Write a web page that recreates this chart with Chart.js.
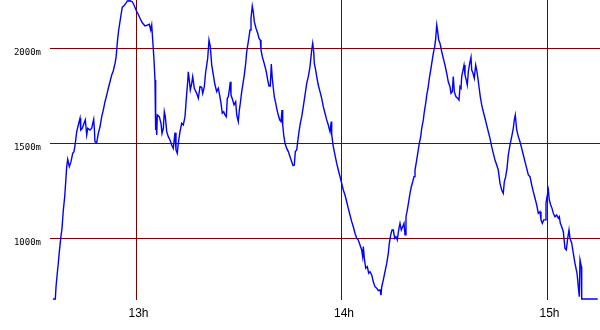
<!DOCTYPE html>
<html>
<head>
<meta charset="utf-8">
<script src="https://cdn.jsdelivr.net/npm/chart.js@4/dist/chart.umd.min.js"></script>
<style>
html,body{margin:0;padding:0;background:#fff;}
canvas{display:block;}
</style>
</head>
<body>
<canvas id="c" width="600" height="330"></canvas>
<script>
// time in minutes after 12:00, altitude in metres
const times = [35.6,36.29,36.5,36.87,37.17,37.46,37.87,38.25,38.63,39.03,39.33,39.62,39.91,40.38,40.87,41.37,41.75,42.13,42.54,43.0,43.5,43.71,44.17,44.67,45.05,45.46,45.75,46.42,46.92,47.5,47.68,47.88,48.38,48.84,49.34,49.84,50.3,50.8,51.3,51.77,52.26,52.76,53.23,53.72,54.01,54.22,54.51,54.8,55.18,55.47,55.85,56.35,56.93,57.31,58.1,58.77,59.27,59.85,60.35,61.02,61.69,62.48,63.15,63.74,64.15,64.44,64.73,65.11,65.4,65.49,65.69,65.9,66.07,66.66,67.15,67.45,67.83,68.12,68.41,68.82,69.28,69.78,70.28,70.74,71.24,71.53,71.91,72.2,72.7,73.2,73.66,74.16,74.66,74.95,75.12,75.42,75.71,76.12,76.41,76.88,77.58,78.05,78.54,79.04,79.33,79.8,80.2,80.5,80.79,81.17,81.55,81.96,82.43,82.92,83.42,83.88,84.18,84.67,85.05,85.46,85.84,86.22,86.51,86.8,87.1,87.39,87.59,88.09,88.47,88.96,89.26,89.72,90.02,90.31,90.72,91.1,91.48,91.88,92.18,92.64,93.14,93.43,93.81,94.1,94.4,94.89,95.39,95.77,96.15,96.35,96.73,97.14,97.52,97.9,98.31,98.69,99.07,99.36,99.65,99.95,100.24,100.65,101.03,101.41,101.81,102.19,102.49,102.69,102.98,103.36,103.86,104.33,104.82,105.32,105.7,106.08,106.37,106.78,107.07,107.45,107.83,108.24,108.7,109.2,109.7,110.17,110.66,111.16,111.45,111.74,111.92,112.32,112.71,113.08,113.58,114.08,114.54,115.04,115.54,116.0,116.5,116.88,117.0,117.47,117.96,118.46,118.92,119.42,119.92,120.38,120.88,121.38,121.84,122.34,122.84,123.3,123.8,124.3,124.76,125.26,125.76,126.05,126.23,126.52,126.93,127.39,127.8,128.18,128.68,129.14,129.64,130.14,130.6,131.1,131.39,131.6,132.06,132.56,133.06,133.52,133.82,134.23,134.61,134.98,135.39,135.77,136.15,136.56,136.94,137.32,137.73,138.11,138.4,138.69,139.07,139.48,139.86,140.24,140.65,141.03,141.32,141.82,142.2,142.58,142.99,143.28,143.75,144.04,144.45,144.74,145.12,145.5,145.9,146.29,146.66,147.07,147.37,147.66,147.95,148.24,148.62,149.12,149.58,150.08,150.58,151.04,151.54,151.83,152.21,152.5,152.8,153.29,153.79,154.17,154.46,154.75,154.96,155.34,155.63,155.92,156.3,156.59,156.89,157.29,157.67,157.88,158.26,158.64,159.04,159.34,159.63,160.01,160.39,160.8,161.27,161.76,162.26,162.72,163.22,163.72,164.18,164.68,165.18,165.64,166.14,166.64,167.1,167.4,167.8,168.19,168.56,169.06,169.56,170.02,170.32,170.61,171.02,171.49,171.98,172.48,172.95,173.44,173.94,174.41,174.9,175.4,175.86,176.36,176.86,177.32,177.82,178.11,178.49,178.9,179.28,179.57,179.87,180.25,180.54,180.95,181.33,181.71,182.2,182.7,183.17,183.46,183.75,184.16,184.63,185.12,185.5,185.91,186.29,186.58,187.08,187.55,188.04,188.63,189.01,189.3,189.5,189.88,190.0,194.67];
const altitudes = [682,682,747,819,872,932,1002,1056,1151,1221,1300,1380,1419,1380,1406,1450,1459,1503,1564,1599,1635,1573,1582,1608,1626,1547,1582,1573,1582,1629,1582,1511,1506,1555,1590,1643,1678,1722,1757,1793,1827,1863,1885,1924,1951,1995,2056,2100,2144,2179,2220,2228,2241,2253,2254,2249,2232,2205,2188,2162,2138,2121,2126,2130,2100,2126,2047,1942,1836,1573,1652,1547,1652,1643,1608,1555,1582,1669,1643,1564,1538,1520,1494,1476,1559,1468,1450,1503,1564,1608,1599,1643,1766,1827,1880,1836,1784,1819,1854,1793,1766,1740,1801,1798,1766,1801,1880,1915,1951,2047,2012,1915,1863,1810,1775,1793,1766,1714,1661,1669,1652,1643,1740,1748,1784,1827,1757,1731,1705,1722,1652,1617,1678,1714,1775,1819,1863,1924,1986,2038,2100,2162,2226,2196,2144,2109,2083,2056,2047,1995,1959,1933,1907,1880,1836,1805,1805,1921,1845,1793,1748,1714,1678,1652,1626,1617,1678,1599,1547,1503,1476,1459,1432,1406,1385,1388,1459,1468,1511,1564,1608,1643,1696,1757,1819,1854,1907,1995,2030,1986,1924,1889,1845,1810,1775,1740,1696,1661,1626,1599,1564,1617,1547,1485,1441,1397,1362,1327,1292,1257,1230,1195,1160,1125,1090,1063,1029,1002,993,967,940,905,958,897,844,853,818,826,809,773,747,739,726,730,703,747,782,826,870,923,976,1020,1046,1046,1002,1011,993,1046,1081,1046,1063,1081,1020,1116,1151,1195,1239,1274,1300,1327,1362,1415,1459,1503,1538,1582,1626,1669,1714,1757,1793,1845,1889,1933,1977,2012,2056,2126,2091,2047,2030,1986,1951,1915,1872,1827,1801,1766,1775,1854,1775,1748,1740,1731,1801,1793,1854,1889,1915,1863,1836,1810,1880,1924,1956,1889,1872,1845,1915,1889,1854,1801,1748,1705,1669,1635,1599,1564,1529,1485,1450,1415,1388,1362,1292,1257,1239,1300,1327,1371,1441,1494,1538,1582,1626,1652,1573,1538,1511,1476,1441,1406,1371,1336,1327,1283,1248,1213,1178,1134,1142,1099,1081,1099,1099,1187,1221,1257,1204,1178,1160,1134,1116,1125,1108,1116,1081,1063,1037,949,941,1002,1046,1002,976,923,870,818,747,694,888,853,682,682];
const xTicks = [60, 120, 180];
const xTickLabels = ['13h', '14h', '15h'];
const yTicks = [1000, 1500, 2000];
const yTickLabels = ['1000m', '1500m', '2000m'];
const xRange = [34.74, 195.34];
const yRange = [677, 2258];

const points = times.map((t, i) => ({x: t, y: altitudes[i]}));

new Chart(document.getElementById('c'), {
  type: 'line',
  data: {
    datasets: [{
      data: points,
      borderColor: '#0000ff',
      borderWidth: 1.4,
      pointRadius: 0,
      tension: 0,
      fill: false
    }]
  },
  options: {
    responsive: false,
    animation: false,
    events: [],
    layout: {padding: 0},
    plugins: {legend: {display: false}, tooltip: {enabled: false}},
    scales: {
      x: {
        type: 'linear',
        min: xRange[0],
        max: xRange[1],
        afterBuildTicks: s => { s.ticks = xTicks.map(v => ({value: v})); },
        afterFit: s => { s.height = 30; s.paddingLeft = 0; s.paddingRight = 0; },
        grid: {color: '#800000', lineWidth: 1, drawTicks: false},
        border: {display: false},
        ticks: {
          autoSkip: false,
          maxRotation: 0,
          padding: 6,
          labelOffset: 2,
          color: '#000',
          font: {family: 'Liberation Sans', size: 12},
          callback: v => xTickLabels[xTicks.indexOf(v)]
        }
      },
      y: {
        type: 'linear',
        min: yRange[0],
        max: yRange[1],
        afterBuildTicks: s => { s.ticks = yTicks.map(v => ({value: v})); },
        afterFit: s => { s.width = 50; s.paddingTop = 0; s.paddingBottom = 0; },
        grid: {color: '#800000', lineWidth: 1, drawTicks: false},
        border: {display: false},
        ticks: {
          autoSkip: false,
          padding: 9,
          labelOffset: 4,
          color: '#000',
          font: {family: 'DejaVu Sans Mono', size: 9},
          callback: v => yTickLabels[yTicks.indexOf(v)]
        }
      }
    }
  }
});
</script>
</body>
</html>
